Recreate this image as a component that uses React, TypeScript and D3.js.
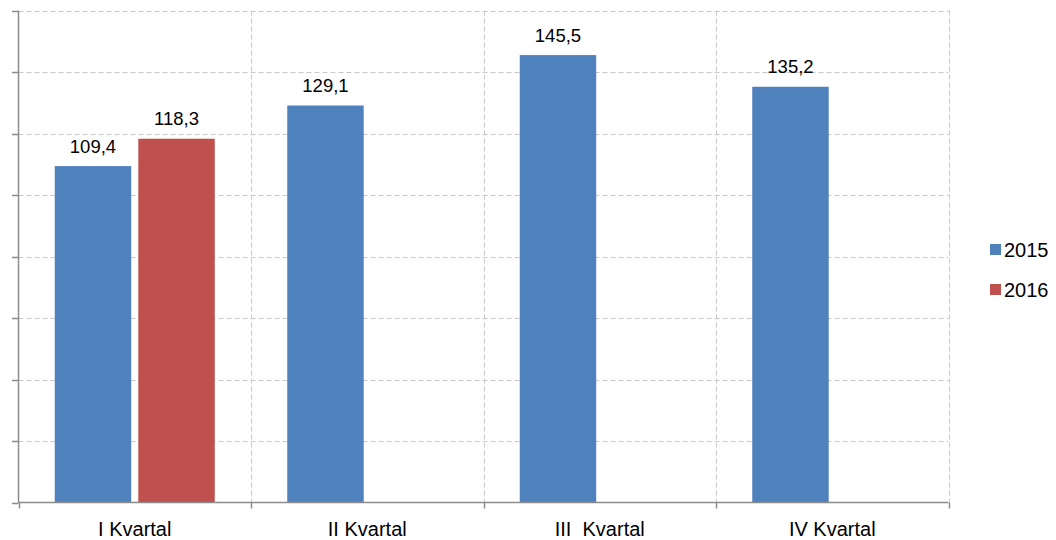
import React from "react";
import * as d3 from "d3";

const categories = ["I Kvartal", "II Kvartal", "III  Kvartal", "IV Kvartal"];
const seriesNames = ["2015", "2016"];
const values2015 = [109.4, 129.1, 145.5, 135.2];
const values2016: (number | null)[] = [118.3, null, null, null];
const yTicks = [0, 20, 40, 60, 80, 100, 120, 140, 160];
const colors = ["#4F81BD", "#C0504D"];

const W = 1056, H = 540;
const left = 18.5, right = 948.5, top = 10.5, bottom = 502.5;

export default function App() {
  const x0 = d3.scaleBand<string>().domain(categories).range([left, right]).padding(0);
  const step = x0.step();
  const groupW = 160;
  const off = (step - groupW) / 2;
  const x1 = d3.scaleBand<string>().domain(seriesNames).range([0, groupW]).paddingInner(0.085);
  const y = d3.scaleLinear().domain([0, 160]).range([bottom, top]);
  const fmt = (v: number) => d3.format(".1f")(v).replace(".", ",");
  const series = [values2015, values2016];
  const font = "Liberation Sans, Arial, sans-serif";

  return (
    <svg width={W} height={H} style={{ position: "absolute", left: 0, top: 0 }} fontFamily={font}>
      <rect width={W} height={H} fill="#fff" />
      {yTicks.filter(t => t > 0).map(t => (
        <line key={"g" + t} x1={left} x2={right} y1={Math.round(y(t)) + 0.5} y2={Math.round(y(t)) + 0.5}
          stroke="#c8c8c8" strokeDasharray="5,3" />
      ))}
      {categories.slice(1).concat(["end"]).map((c, i) => {
        const xx = Math.round(left + step * (i + 1)) + 0.5;
        return <line key={"v" + i} x1={xx} x2={xx} y1={top} y2={bottom} stroke="#c8c8c8" strokeDasharray="5,3" />;
      })}
      {series.map((vals, si) =>
        vals.map((v, ci) => {
          if (v == null) return null;
          const bx = (x0(categories[ci]) as number) + off + (x1(seriesNames[si]) as number);
          const bw = x1.bandwidth();
          return (
            <g key={si + "-" + ci}>
              <rect x={bx} y={y(v)} width={bw} height={bottom - y(v)} fill={colors[si]} />
              <text x={bx + bw / 2} y={y(v) - 13.5} textAnchor="middle" fontSize={18.5} fill="#000">{fmt(v)}</text>
            </g>
          );
        })
      )}
      <line x1={left} x2={left} y1={top} y2={bottom} stroke="#8c8c8c" strokeWidth={1.5} />
      {yTicks.map(t => (
        <line key={"t" + t} x1={12} x2={left} y1={Math.round(y(t)) + 0.5} y2={Math.round(y(t)) + 0.5} stroke="#8c8c8c" strokeWidth={1.5} />
      ))}
      <line x1={left} x2={right} y1={bottom} y2={bottom} stroke="#8c8c8c" strokeWidth={1.5} />
      {[0, 1, 2, 3, 4].map(i => {
        const xx = Math.round(left + step * i) + 0.5;
        return <line key={"xt" + i} x1={xx} x2={xx} y1={bottom} y2={bottom + 6} stroke="#8c8c8c" strokeWidth={1.5} />;
      })}
      {categories.map(c => (
        <text key={c} x={(x0(c) as number) + step / 2} y={536} textAnchor="middle" fontSize={20} fill="#000"
          style={{ whiteSpace: "pre" }}>{c}</text>
      ))}
      {seriesNames.map((s, i) => (
        <g key={s} transform={`translate(990,${244 + i * 40})`}>
          <rect x={0} y={0} width={11} height={11} fill={colors[i]} />
          <text x={14} y={12.5} fontSize={20} fill="#000">{s}</text>
        </g>
      ))}
    </svg>
  );
}
